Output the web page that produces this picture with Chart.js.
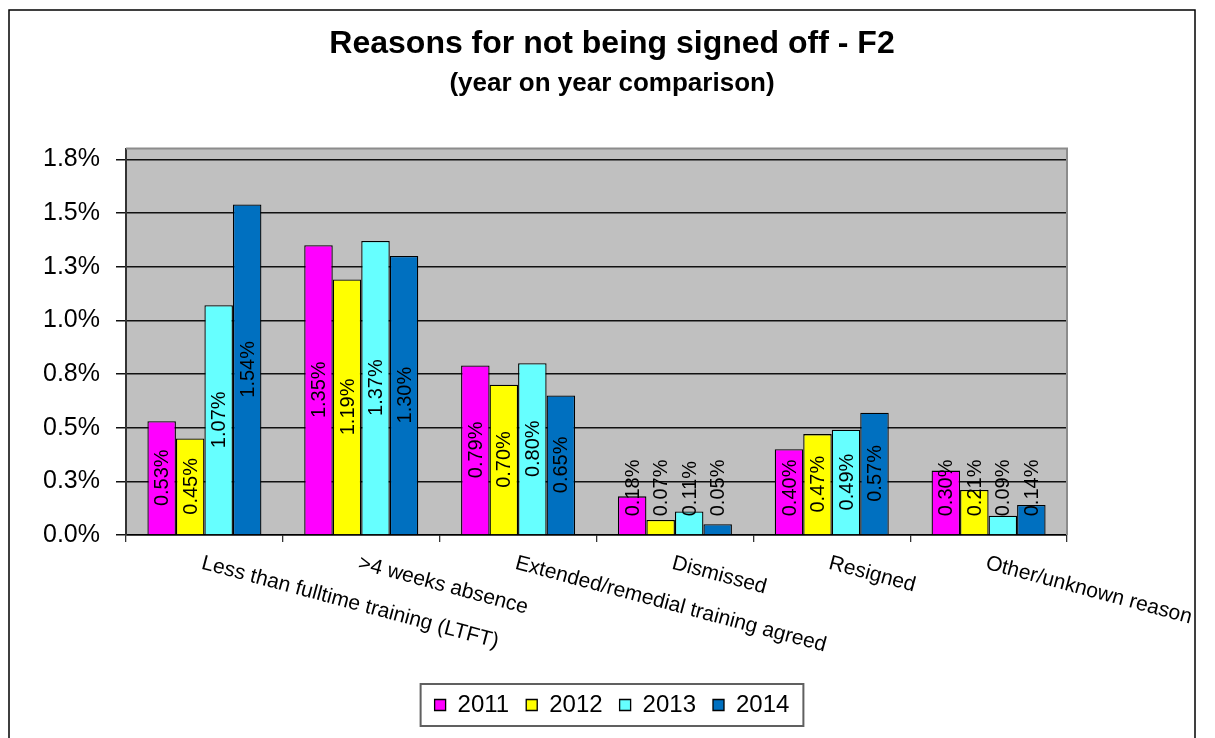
<!DOCTYPE html>
<html>
<head>
<meta charset="utf-8">
<title>Reasons for not being signed off - F2</title>
<script src="https://cdn.jsdelivr.net/npm/chart.js@4/dist/chart.umd.min.js"></script>
<style>
  html, body { margin: 0; padding: 0; background: #fff; }
  #wrap { width: 1215px; height: 738px; position: relative; }
</style>
</head>
<body>
<div id="wrap"><canvas id="chart"></canvas></div>
<script>
const categories = [
  "Less than fulltime training (LTFT)",
  ">4 weeks absence",
  "Extended/remedial training agreed",
  "Dismissed",
  "Resigned",
  "Other/unknown reason",
];
const years = ["2011", "2012", "2013", "2014"];
const values2011 = [0.53, 1.35, 0.79, 0.18, 0.40, 0.30];
const values2012 = [0.45, 1.19, 0.70, 0.07, 0.47, 0.21];
const values2013 = [1.07, 1.37, 0.80, 0.11, 0.49, 0.09];
const values2014 = [1.54, 1.30, 0.65, 0.05, 0.57, 0.14];
const yTickValues = [0, 0.25, 0.5, 0.75, 1, 1.25, 1.5, 1.75];
const yTickLabels = ["0.0%", "0.3%", "0.5%", "0.8%", "1.0%", "1.3%", "1.5%", "1.8%"];

const titleText = "Reasons for not being signed off - F2";
const subtitleText = "(year on year comparison)";

const seriesColors = ["#FF00FF", "#FFFF00", "#66FFFF", "#0070C0"];
const FONT = '"Liberation Sans", Arial, sans-serif';

// grey plot area, outer frame and the plot border on top/right
const chartFrame = {
  id: "chartFrame",
  beforeDraw(chart) {
    const { ctx, chartArea: a } = chart;
    ctx.save();
    ctx.fillStyle = "#fff";
    ctx.fillRect(0, 0, chart.width, chart.height);
    ctx.strokeStyle = "#000";
    ctx.lineWidth = 1.5;
    ctx.strokeRect(9, 10, 1186, 800);
    ctx.fillStyle = "#C0C0C0";
    ctx.fillRect(a.left, a.top, a.right - a.left, a.bottom - a.top);
    ctx.restore();
  },
  afterDraw(chart) {
    const { ctx, chartArea: a } = chart;
    ctx.save();
    ctx.strokeStyle = "#8c8c8c";
    ctx.lineWidth = 2;
    ctx.beginPath();
    ctx.moveTo(a.left, a.top);
    ctx.lineTo(a.right, a.top);
    ctx.lineTo(a.right, a.bottom);
    ctx.stroke();

    // box around the legend
    const boxes = chart.legend.legendHitBoxes;
    const first = boxes[0];
    const last = boxes[boxes.length - 1];
    const cy = first.top + first.height / 2;
    const left = first.left - 14;
    const right = last.left + last.width + 14;
    ctx.strokeStyle = "#606060";
    ctx.lineWidth = 2;
    ctx.strokeRect(left, cy - 21, right - left, 42);
    ctx.restore();
  },
};

// vertical value labels inside each bar
const barLabels = {
  id: "barLabels",
  afterDatasetsDraw(chart) {
    const ctx = chart.ctx;
    ctx.save();
    ctx.font = "20px " + FONT;
    ctx.fillStyle = "#000";
    ctx.textAlign = "center";
    ctx.textBaseline = "middle";
    chart.data.datasets.forEach((ds, i) => {
      chart.getDatasetMeta(i).data.forEach((bar, j) => {
        const text = ds.data[j].toFixed(2) + "%";
        const w = ctx.measureText(text).width;
        const cy = Math.min((bar.y + bar.base) / 2, bar.base - 18 - w / 2);
        ctx.save();
        ctx.translate(bar.x + 1, cy);
        ctx.rotate(-Math.PI / 2);
        ctx.fillText(text, 0, 0);
        ctx.restore();
      });
    });
    ctx.restore();
  },
};

// category names slanted downwards from each category centre
const categoryLabels = {
  id: "categoryLabels",
  afterDraw(chart) {
    const ctx = chart.ctx;
    const x = chart.scales.x;
    ctx.save();
    ctx.font = "21px " + FONT;
    ctx.fillStyle = "#000";
    ctx.textAlign = "left";
    ctx.textBaseline = "alphabetic";
    chart.data.labels.forEach((label, i) => {
      ctx.save();
      ctx.translate(x.getPixelForValue(i), chart.chartArea.bottom + 19);
      ctx.rotate((15 * Math.PI) / 180);
      ctx.fillText(label, 0, 15);
      ctx.restore();
    });
    ctx.restore();
  },
};

const seriesValues = [values2011, values2012, values2013, values2014];

new Chart(document.getElementById("chart"), {
  type: "bar",
  data: {
    labels: categories,
    datasets: years.map((year, i) => ({
      label: year,
      data: seriesValues[i],
      backgroundColor: seriesColors[i],
      borderColor: "#000",
      borderWidth: 1.3,
      categoryPercentage: 0.727,
      barPercentage: 1,
    })),
  },
  options: {
    responsive: true,
    maintainAspectRatio: false,
    animation: false,
    layout: { padding: { left: 9, right: 0, top: 0, bottom: 11 } },
    scales: {
      x: {
        grid: {
          display: true,
          drawOnChartArea: false,
          drawTicks: true,
          tickLength: 7,
          color: "#333",
          lineWidth: 1.3,
        },
        border: { display: true, color: "#000", width: 1.5 },
        ticks: { display: false },
        afterFit: (s) => { s.height = 141; },
      },
      y: {
        min: 0,
        max: 1.8,
        afterBuildTicks: (s) => { s.ticks = yTickValues.map((v) => ({ value: v })); },
        grid: { color: "#111", lineWidth: 1.5, tickLength: 10 },
        border: { display: true, color: "#333", width: 2 },
        ticks: {
          padding: 16,
          color: "#000",
          font: { family: FONT, size: 25 },
          callback: (v, i) => yTickLabels[i],
        },
        afterFit: (s) => { s.width = 117; },
      },
      // empty space to the right of the plot
      side: {
        position: "right",
        grid: { display: false },
        border: { display: false },
        ticks: { display: false },
        afterFit: (s) => { s.width = 148; },
      },
    },
    plugins: {
      title: {
        display: true,
        text: titleText,
        color: "#000",
        font: { family: FONT, size: 32, weight: "bold" },
        padding: { top: 25, bottom: 0 },
      },
      subtitle: {
        display: true,
        text: subtitleText,
        color: "#000",
        font: { family: FONT, size: 26, weight: "bold" },
        padding: { top: 5, bottom: 49 },
      },
      legend: {
        position: "bottom",
        labels: {
          boxWidth: 11,
          boxHeight: 11,
          padding: 17,
          color: "#000",
          font: { family: FONT, size: 24 },
        },
      },
      tooltip: { enabled: false },
    },
  },
  plugins: [chartFrame, barLabels, categoryLabels],
});
</script>
</body>
</html>
